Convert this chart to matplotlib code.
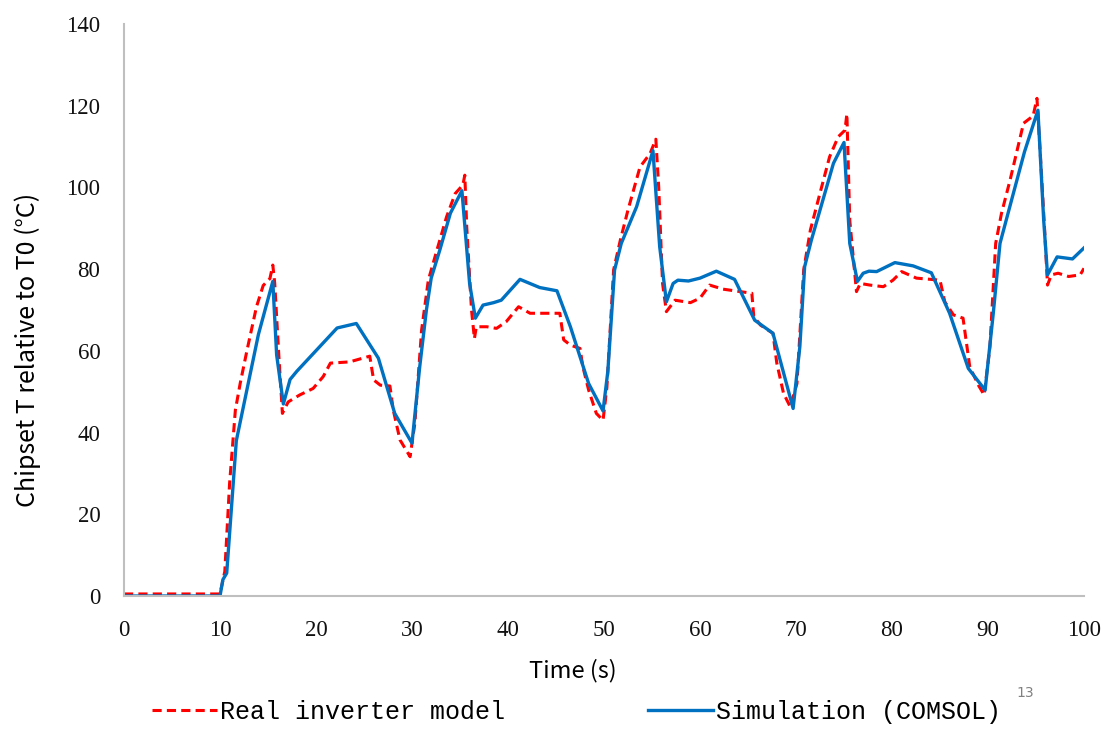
import matplotlib as mpl
mpl.use("Agg")
import matplotlib.pyplot as plt

# simulation (COMSOL)
sim_t = [0, 10, 10.3, 10.7, 11.7, 14.0, 15.5, 15.9, 16.6, 17.3, 18.0, 22.2, 24.2,
         26.5, 28.2, 30.0, 30.8, 31.5, 32.0, 32.9, 34.0, 35.2, 36.0, 36.6, 37.4,
         38.5, 39.3, 41.25, 43.3, 45.1, 46.5, 48.4, 49.9, 50.4, 51.1, 51.8, 53.4,
         55.1, 55.8, 56.5, 57.2, 57.7, 58.8, 60.0, 61.7, 63.6, 65.7, 67.6, 69.7,
         70.4, 70.9, 71.6, 72.8, 73.9, 75.0, 75.6, 76.4, 77.0, 77.6, 78.4, 80.3,
         82.2, 84.1, 86.0, 87.95, 89.7, 90.55, 91.25, 92.5, 93.8, 95.2, 95.8,
         96.2, 97.2, 98.8, 100]
sim_v = [0, 0, 4, 5.6, 38, 64, 77, 59, 47, 53, 55, 65.6, 66.7,
         58.2, 44.7, 37.4, 56, 70, 77.8, 84.7, 93.7, 99.2, 76.5, 68, 71.2,
         71.8, 72.4, 77.5, 75.5, 74.7, 65.9, 52, 45.3, 55, 79.8, 86.3, 95.3,
         109, 85.5, 72, 76.5, 77.3, 77.1, 77.8, 79.5, 77.5, 67.5, 64.3, 45.9,
         61, 80.6, 87.1, 96.9, 105.9, 111, 86.3, 77, 79, 79.5, 79.4, 81.6,
         80.8, 79.1, 69.2, 55.7, 50.4, 69.2, 86.3, 97.3, 108.7, 118.9, 92,
         78.6, 83, 82.5, 85.2]

# real inverter model
real_t = [0, 10, 10.5, 11.0, 11.6, 12.1, 12.8, 13.8, 14.5, 15.2, 15.5, 15.7, 16.1,
          16.5, 17.1, 18.3, 19.7, 20.75, 21.5, 23.5, 25.6, 26.0, 26.7, 27.7, 28.05,
          28.75, 29.8, 30.3, 31.0, 31.7, 32.6, 33.6, 34.5, 35.3, 35.5, 35.7, 36.2,
          36.5, 36.7, 37.8, 38.8, 39.8, 41.1, 42.3, 45.4, 45.8, 46.5, 47.5, 47.8,
          48.4, 49.2, 49.9, 50.3, 51.0, 51.7, 52.5, 53.75, 54.8, 55.4, 55.7, 56.1,
          56.5, 57.4, 59.0, 60.0, 61.0, 62.4, 64.2, 65.4, 65.6, 66.3, 67.6, 68.0,
          68.7, 69.4, 70.1, 70.8, 71.5, 72.5, 73.5, 74.4, 75.1, 75.3, 75.6, 76.3,
          76.7, 77.7, 79.1, 80.1, 81.0, 82.55, 85.0, 85.5, 86.4, 87.4, 88.1, 89.0,
          89.6, 90.2, 90.8, 91.4, 92.3, 93.7, 94.7, 95.1, 95.4, 95.9, 96.2, 96.6,
          97.3, 98.4, 99.6, 100]
real_v = [0.5, 0.5, 6, 27.6, 45.5, 52, 60, 70.8, 76, 77.7, 81, 76.6, 60,
          44.7, 47.5, 49.2, 50.8, 53.7, 57, 57.3, 58.7, 52.9, 51.6, 51.4, 45.5,
          38.2, 34.1, 42.3, 65.1, 77.3, 84.7, 92.8, 98.5, 100.6, 103, 90.4, 70,
          63, 65.9, 65.9, 65.5, 67.1, 70.8, 69.2, 69.2, 62.7, 61.4, 60.6, 56.1,
          50.4, 44.7, 43, 51, 79.8, 87.1, 94.5, 105, 108.3, 111.8, 100, 76.5,
          69.6, 72.4, 71.8, 72.9, 76.1, 75.1, 74.5, 74.1, 68.4, 66.3, 64.3, 57,
          49.6, 46.3, 52, 79.8, 89.6, 98.6, 107.5, 112.4, 114, 118, 92, 74.5,
          76.5, 76.1, 75.7, 77.3, 79.4, 77.8, 77.3, 72, 68.8, 68, 56.1, 51.6,
          49.2, 61, 86.3, 93.6, 101.8, 115.7, 117.5, 121.8, 110, 89.6, 76.1, 78.6,
          79, 78.2, 78.6, 80.2]

x_ticks = list(range(0, 101, 10))
y_ticks = list(range(0, 141, 20))

fig = plt.figure(figsize=(11.13, 7.29), dpi=100)
axis = fig.add_axes([124 / 1113, 133 / 729, 960 / 1113, 572 / 729])

axis.plot(real_t, real_v, color="#FF0000", linewidth=2.2, dashes=(3, 1.7),
          label="Real inverter model")
axis.plot(sim_t, sim_v, color="#0070C0", linewidth=2.4,
          label="Simulation (COMSOL)")

axis.set_xlim(0, 100)
axis.set_ylim(0, 140)
axis.set_xticks(x_ticks)
axis.set_yticks(y_ticks)
for side in ("top", "right"):
    axis.spines[side].set_visible(False)
for side in ("left", "bottom"):
    axis.spines[side].set_color("#BFBFBF")
    axis.spines[side].set_linewidth(1.5)
axis.tick_params(length=0, labelsize=16.5)
axis.tick_params(axis="x", pad=17)
axis.tick_params(axis="y", pad=17)
for lab in axis.get_xticklabels() + axis.get_yticklabels():
    lab.set_family("Liberation Serif")
    lab.set_color("#111111")

fig.text(573 / 1113, 1 - 671 / 729, "Time (s)", ha="center", va="center",
         fontsize=17, family="Noto Sans CJK SC")
fig.text(28 / 1113, 1 - 350 / 729, "Chipset T relative to T0 (°C)", ha="center",
         va="center", rotation=90, fontsize=18, family="Noto Sans CJK SC")

legend = fig.legend(loc="center left", bbox_to_anchor=(152 / 1113, 1 - 712 / 729),
                    ncol=2, frameon=False, borderpad=0, borderaxespad=0,
                    handlelength=2.6, handletextpad=0.1, columnspacing=5.75,
                    prop={"family": "Liberation Mono", "size": 18})

fig.text(1025 / 1113, 1 - 693 / 729, "13", ha="center", va="center",
         fontsize=10, color="#808080")

fig.savefig("out.png", dpi=100)
